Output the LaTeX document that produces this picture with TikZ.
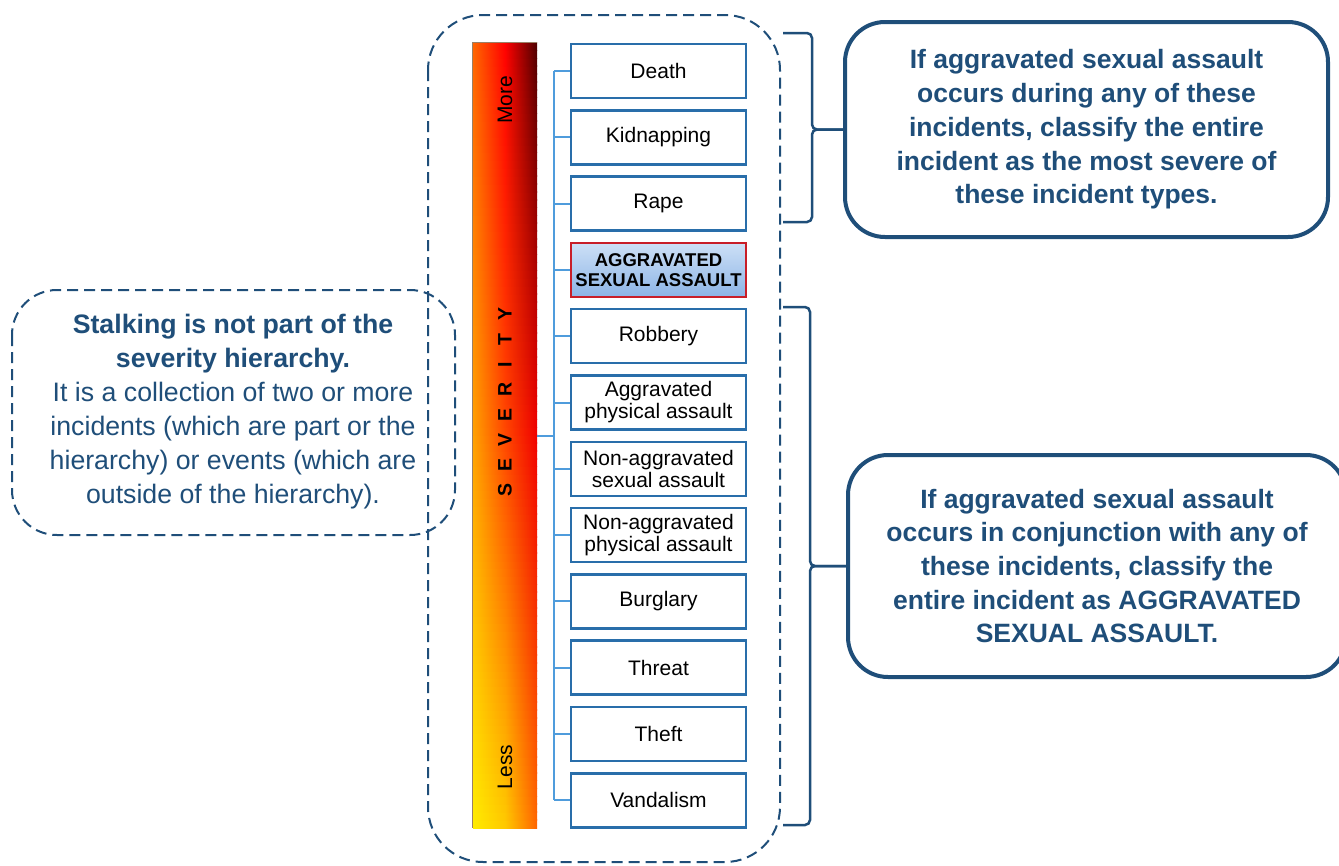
\documentclass[tikz,border=0pt]{standalone}
\usepackage{fontspec}
\setmainfont{Liberation Sans}
\usepackage{tikz}
\usepackage{xcolor}
\definecolor{navy}{RGB}{31,78,121}
\definecolor{boxblue}{RGB}{41,110,170}
\definecolor{linkblue}{RGB}{79,156,220}
\definecolor{aggred}{RGB}{200,30,40}
\definecolor{aggtop}{RGB}{205,224,246}
\definecolor{aggbot}{RGB}{140,180,230}
\definecolor{lowL}{RGB}{255,235,0}
\definecolor{lowM}{RGB}{255,200,0}
\definecolor{lowR}{RGB}{255,100,0}
\definecolor{midL}{RGB}{255,160,0}
\definecolor{midM}{RGB}{255,70,0}
\definecolor{midR}{RGB}{240,0,0}
\definecolor{topL}{RGB}{255,100,0}
\definecolor{topM}{RGB}{255,0,0}
\definecolor{topR}{RGB}{75,0,0}

\begin{document}
\begin{tikzpicture}[x=1pt, y=-1pt,
  crimebox/.style={draw=boxblue, line width=2.5pt, fill=white, minimum width=175pt,
    minimum height=54pt, inner sep=0pt, align=center, font=\fontsize{21}{22}\selectfont},
  aggbox/.style={crimebox, draw=aggred, top color=aggtop, bottom color=aggbot,
    font=\bfseries\fontsize{18.5}{19.5}\selectfont},
  link/.style={draw=linkblue, line width=2pt},
  bracket/.style={draw=navy, line width=2.5pt, rounded corners=5pt},
  callout/.style={draw=navy, line width=4pt, rounded corners=40pt, text=navy, align=center,
    font=\bfseries\fontsize{26.5}{33.7}\selectfont},
  dashbox/.style={draw=navy, line width=2pt, dash pattern=on 11pt off 6pt}]
\clip (0,0) rectangle (1339,865);

% outer dashed frame and stalking note
\draw[dashbox, rounded corners=55pt] (428,15) rectangle (780,862);
\draw[dashbox, rounded corners=45pt] (12,290) rectangle (455,535);
\node[text=navy, align=center, font=\fontsize{26.7}{34}\selectfont] (stalk) at (233,412)
  {\textbf{Stalking is not part of the}\\ \textbf{severity hierarchy.}\\
   It is a collection of two or more\\ incidents (which are part or the\\
   hierarchy) or events (which are\\ outside of the hierarchy).};

% severity bar
\node[minimum width=64pt, minimum height=785pt, inner sep=0pt] (bar) at (505,435.5) {};
\foreach \k in {0,...,99}{
  \pgfmathtruncatemacro{\p}{\k<50 ? 2*\k : 2*(\k-50)}
  \ifnum\k<50 \colorlet{barL}{midL!\p!lowL}\colorlet{barM}{midM!\p!lowM}\colorlet{barR}{midR!\p!lowR}
  \else \colorlet{barL}{topL!\p!midL}\colorlet{barM}{topM!\p!midM}\colorlet{barR}{topR!\p!midR}\fi
  \shade[left color=barL, right color=barR, middle color=barM]
    (473,{828-7.85*\k}) rectangle (537,{828-7.85*(\k+1)-0.6});
}
\draw[gray!60!brown, line width=1pt] (bar.south west) |- (bar.north east);
\node[rotate=90, font=\fontsize{21}{22}\selectfont] (more) at (505,100) {More};
\node[rotate=90, font=\fontsize{21}{22}\selectfont] (less) at (505,767) {Less};
\foreach \l [count=\i from 0] in {S,E,V,E,R,I,T,Y}
  \node[rotate=90, font=\bfseries\fontsize{19.5}{20}\selectfont] (sev\i) at (505,{490-25.1*\i}) {\l};

% incident boxes
\foreach \i/\n/\t in {0/death/Death, 1/kidnap/Kidnapping, 2/rape/Rape, 4/robbery/Robbery,
    5/aggphys/Aggravated\\physical assault, 6/nonsex/Non-aggravated\\sexual assault,
    7/nonphys/Non-aggravated\\physical assault, 8/burglary/Burglary, 9/threat/Threat,
    10/theft/Theft, 11/vandal/Vandalism}
  \node[crimebox] (\n) at (658.5,{71+66.3*\i}) {\t};
\node[aggbox] (agg) at (658.5,{71+66.3*3}) {AGGRAVATED\\SEXUAL ASSAULT};

% connectors
\coordinate (spinetop) at (554,71);
\coordinate (spinebot) at (554,800.3);
\draw[link] (spinetop) -- (spinebot);
\draw[link] (bar.east) -- (bar.east -| spinetop);
\foreach \n in {death,kidnap,rape,agg,robbery,aggphys,nonsex,nonphys,burglary,threat,theft,vandal}
  \draw[link] (\n.west) -- (\n.west -| spinetop);

% callouts and brackets
\node[callout, minimum width=483pt, minimum height=215pt] (topcall) at (1086.5,129.5)
  {If aggravated sexual assault\\ occurs during any of these\\ incidents, classify the entire\\
   incident as the most severe of\\ these incident types.};
\node[callout, minimum width=498pt, minimum height=222pt] (botcall) at (1097,566)
  {If aggravated sexual assault\\ occurs in conjunction with any of\\ these incidents, classify the\\
   entire incident as AGGRAVATED\\ SEXUAL ASSAULT.};
\coordinate (tb1) at (783,33);
\coordinate (tb2) at (783,222);
\coordinate (bb1) at (783,307);
\coordinate (bb2) at (783,825);
\draw[bracket] (tb1) -- ++(29,0) |- (topcall.west);
\draw[bracket] (tb2) -- ++(29,0) |- (topcall.west);
\draw[bracket] (bb1) -- ++(27,0) |- (botcall.west);
\draw[bracket] (bb2) -- ++(27,0) |- (botcall.west);
\end{tikzpicture}
\end{document}
